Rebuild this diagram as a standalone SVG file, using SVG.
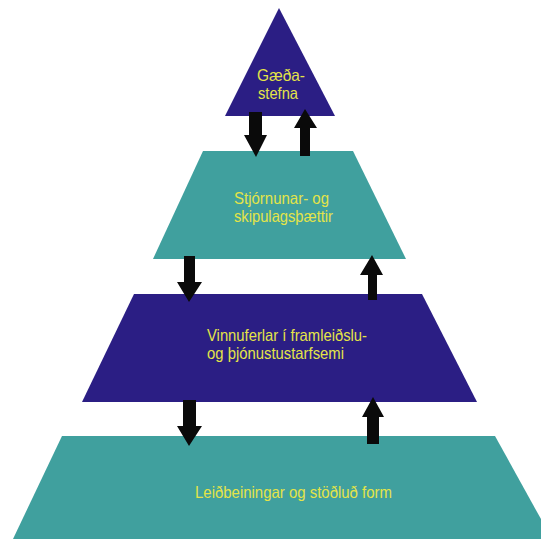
<svg xmlns="http://www.w3.org/2000/svg" width="541" height="539" viewBox="0 0 541 539">
<style>
.blue{fill:#2b1e84}
.teal{fill:#40a09e}
.lbl{font-family:"Liberation Sans",Arial,sans-serif;font-size:16.5px;fill:#e4e448}
.arr{fill:#0a0a0a}
</style>
<rect width="541" height="539" fill="#ffffff"/>
<g id="node-gaedastefna">
<polygon class="blue" points="279,8 335,116 225,116"/>
<text class="lbl"><tspan x="257" y="81" textLength="48" lengthAdjust="spacingAndGlyphs">Gæða-</tspan><tspan x="258" y="99" textLength="40" lengthAdjust="spacingAndGlyphs">stefna</tspan></text>
</g>
<g id="node-stjornunar">
<polygon class="teal" points="203,151 353,151 406,259 153,259"/>
<text class="lbl"><tspan x="234" y="204" textLength="95" lengthAdjust="spacingAndGlyphs">Stjórnunar- og</tspan><tspan x="234" y="222" textLength="99" lengthAdjust="spacingAndGlyphs">skipulagsþættir</tspan></text>
</g>
<g id="node-vinnuferlar">
<polygon class="blue" points="134,294 422,294 477,402 82,402"/>
<text class="lbl"><tspan x="207" y="341" textLength="160" lengthAdjust="spacingAndGlyphs">Vinnuferlar í framleiðslu-</tspan><tspan x="207" y="359" textLength="137" lengthAdjust="spacingAndGlyphs">og þjónustustarfsemi</tspan></text>
</g>
<g id="node-leidbeiningar">
<polygon class="teal" points="62,436 495,436 552,539 13,539"/>
<text class="lbl" x="195" y="498" textLength="197" lengthAdjust="spacingAndGlyphs">Leiðbeiningar og stöðluð form</text>
</g>
<g id="connectors">
<polygon class="arr" points="249,112 262,112 262,135 267,135 256,157 244,135 249,135"/>
<polygon class="arr" points="305,109 317,128 310,128 310,156 300,156 300,128 294,128"/>
<polygon class="arr" points="184,256 195,256 195,282 202,282 189,302 177,282 184,282"/>
<polygon class="arr" points="372,255 383,275 377,275 377,300 368,300 368,275 360,275"/>
<polygon class="arr" points="183,400 196,400 196,426 202,426 189,446 177,426 183,426"/>
<polygon class="arr" points="373,397 384,417 379,417 379,444 367,444 367,417 362,417"/>
</g>
</svg>
